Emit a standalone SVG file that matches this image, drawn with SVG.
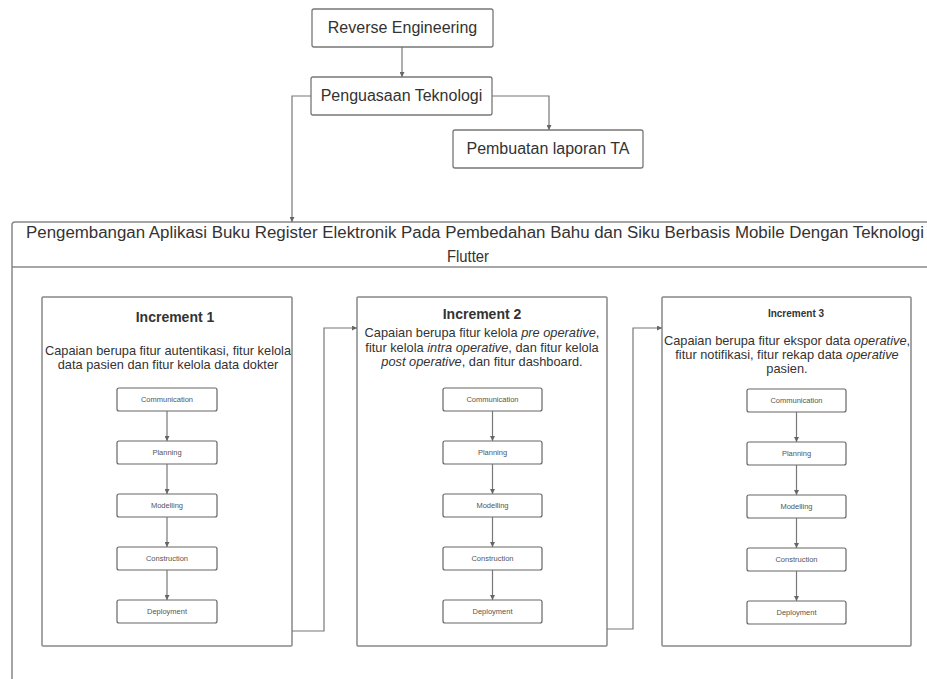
<svg xmlns="http://www.w3.org/2000/svg" width="927" height="679" viewBox="0 0 927 679">
<defs>
<marker id="ah" viewBox="0 0 10 10" refX="10" refY="5" markerWidth="5" markerHeight="5" orient="auto" markerUnits="userSpaceOnUse">
<path d="M0,0 L10,5 L0,10 z" fill="#666"/>
</marker>
</defs>
<style>
.box{fill:#fff;stroke:#777;stroke-width:1.3}
.frame{fill:#fff;stroke:#888;stroke-width:1.5}
.step{fill:#fff;stroke:#666;stroke-width:1.2}
.conn{fill:none;stroke:#777;stroke-width:1.2;marker-end:url(#ah)}
.t{font-family:"Liberation Sans",Arial,sans-serif;fill:#333;text-anchor:middle}
.big{font-size:16px}
.desc{font-size:12.8px}
.st{font-size:7.5px;fill:#555}
.h{font-weight:bold}
</style>
<rect width="927" height="679" fill="#fff"/>

<g id="container">
<path class="frame" d="M12,679 L12,225 Q12,222 15,222 L940,222"/>
<line x1="12" y1="267" x2="940" y2="267" stroke="#888" stroke-width="1.5"/>
<text class="t" x="475" y="238" font-size="16" textLength="898" lengthAdjust="spacingAndGlyphs">Pengembangan Aplikasi Buku Register Elektronik Pada Pembedahan Bahu dan Siku Berbasis Mobile Dengan Teknologi</text>
<text class="t" x="468" y="262" font-size="16" textLength="42" lengthAdjust="spacingAndGlyphs">Flutter</text>
</g>

<g id="reverse-engineering">
<rect class="box" x="312" y="9" width="181" height="38" rx="2"/>
<text class="t big" x="402.5" y="33">Reverse Engineering</text>
</g>
<g id="penguasaan-teknologi">
<rect class="box" x="311" y="77" width="181" height="38" rx="2"/>
<text class="t big" x="401.5" y="101">Penguasaan Teknologi</text>
</g>
<g id="pembuatan-laporan">
<rect class="box" x="453" y="130" width="190" height="38" rx="2"/>
<text class="t big" x="548" y="154">Pembuatan laporan TA</text>
</g>

<g id="increment-1">
<rect class="frame" x="42" y="297" width="250" height="349" rx="1"/>
<text class="t h" x="175" y="322" font-size="14">Increment 1</text>
<text class="t desc" x="168" y="355">Capaian berupa fitur autentikasi, fitur kelola</text>
<text class="t desc" x="168" y="369">data pasien dan fitur kelola data dokter</text>
</g>
<g id="increment-2">
<rect class="frame" x="357" y="297" width="250" height="349" rx="1"/>
<text class="t h" x="482" y="319" font-size="14">Increment 2</text>
<text class="t desc" x="482" y="337">Capaian berupa fitur kelola <tspan font-style="italic">pre operative</tspan>,</text>
<text class="t desc" x="482" y="352">fitur kelola <tspan font-style="italic">intra operative</tspan>, dan fitur kelola</text>
<text class="t desc" x="482" y="366"><tspan font-style="italic">post operative</tspan>, dan fitur dashboard.</text>
</g>
<g id="increment-3">
<rect class="frame" x="662" y="297" width="249" height="349" rx="1"/>
<text class="t h" x="796" y="317" font-size="10">Increment 3</text>
<text class="t desc" x="787" y="345">Capaian berupa fitur ekspor data <tspan font-style="italic">operative</tspan>,</text>
<text class="t desc" x="787" y="359">fitur notifikasi, fitur rekap data <tspan font-style="italic">operative</tspan></text>
<text class="t desc" x="787" y="373">pasien.</text>
</g>

<g id="inc1-steps">
<g id="inc1-communication"><rect class="step" x="117" y="388" width="100" height="23" rx="2"/><text class="t st" x="167" y="402">Communication</text></g>
<g id="inc1-planning"><rect class="step" x="117" y="441" width="100" height="23" rx="2"/><text class="t st" x="167" y="455">Planning</text></g>
<g id="inc1-modelling"><rect class="step" x="117" y="494" width="100" height="23" rx="2"/><text class="t st" x="167" y="508">Modelling</text></g>
<g id="inc1-construction"><rect class="step" x="117" y="547" width="100" height="23" rx="2"/><text class="t st" x="167" y="561">Construction</text></g>
<g id="inc1-deployment"><rect class="step" x="117" y="600" width="100" height="23" rx="2"/><text class="t st" x="167" y="614">Deployment</text></g>
</g>
<g id="inc2-steps">
<g id="inc2-communication"><rect class="step" x="443" y="388" width="99" height="23" rx="2"/><text class="t st" x="492.5" y="402">Communication</text></g>
<g id="inc2-planning"><rect class="step" x="443" y="441" width="99" height="23" rx="2"/><text class="t st" x="492.5" y="455">Planning</text></g>
<g id="inc2-modelling"><rect class="step" x="443" y="494" width="99" height="23" rx="2"/><text class="t st" x="492.5" y="508">Modelling</text></g>
<g id="inc2-construction"><rect class="step" x="443" y="547" width="99" height="23" rx="2"/><text class="t st" x="492.5" y="561">Construction</text></g>
<g id="inc2-deployment"><rect class="step" x="443" y="600" width="99" height="23" rx="2"/><text class="t st" x="492.5" y="614">Deployment</text></g>
</g>
<g id="inc3-steps">
<g id="inc3-communication"><rect class="step" x="747" y="389" width="99" height="23" rx="2"/><text class="t st" x="796.5" y="403">Communication</text></g>
<g id="inc3-planning"><rect class="step" x="747" y="442" width="99" height="23" rx="2"/><text class="t st" x="796.5" y="456">Planning</text></g>
<g id="inc3-modelling"><rect class="step" x="747" y="495" width="99" height="23" rx="2"/><text class="t st" x="796.5" y="509">Modelling</text></g>
<g id="inc3-construction"><rect class="step" x="747" y="548" width="99" height="23" rx="2"/><text class="t st" x="796.5" y="562">Construction</text></g>
<g id="inc3-deployment"><rect class="step" x="747" y="601" width="99" height="23" rx="2"/><text class="t st" x="796.5" y="615">Deployment</text></g>
</g>

<g id="connectors">
<path class="conn" d="M402,47 L402,77"/>
<path class="conn" d="M311,96 L292,96 L292,222"/>
<path class="conn" d="M492,96 L549,96 L549,130"/>
<path class="conn" d="M292,631 L324,631 L324,328 L357,328"/>
<path class="conn" d="M607,629 L633,629 L633,328 L662,328"/>
<path class="conn" d="M167,411 L167,441"/>
<path class="conn" d="M167,464 L167,494"/>
<path class="conn" d="M167,517 L167,547"/>
<path class="conn" d="M167,570 L167,600"/>
<path class="conn" d="M492.5,411 L492.5,441"/>
<path class="conn" d="M492.5,464 L492.5,494"/>
<path class="conn" d="M492.5,517 L492.5,547"/>
<path class="conn" d="M492.5,570 L492.5,600"/>
<path class="conn" d="M796.5,412 L796.5,442"/>
<path class="conn" d="M796.5,465 L796.5,495"/>
<path class="conn" d="M796.5,518 L796.5,548"/>
<path class="conn" d="M796.5,571 L796.5,601"/>
</g>
</svg>
